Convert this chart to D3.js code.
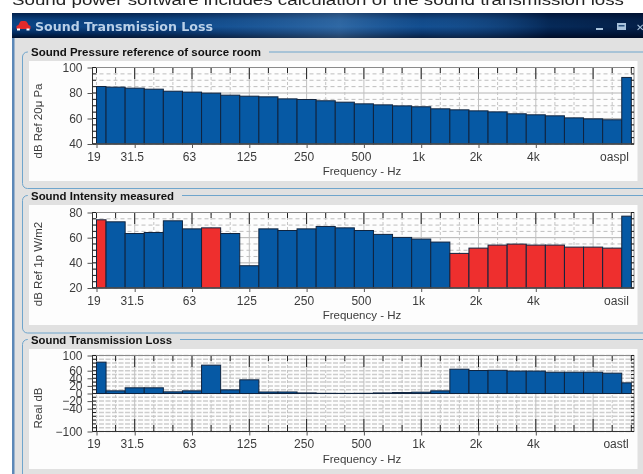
<!DOCTYPE html>
<html><head><meta charset="utf-8">
<script src="https://cdn.jsdelivr.net/npm/d3@7"></script>
<style>
html,body{margin:0;padding:0;background:#fff;overflow:hidden}
svg{display:block;filter:blur(0.35px)}
text{font-family:"Liberation Sans",Arial,sans-serif}
</style></head><body><svg id="c" width="643" height="474"></svg>
<script>
const caption = "Sound power software includes calculation of the sound transmission loss";
const windowTitle = "Sound Transmission Loss";
const bandLabels = ["19","","31.5","","","63","","","125","","","250","","","500","","","1k","","","2k","","","4k","","","","",""];
const pressure = [85.1,84.6,83.8,83,81.4,80.7,79.9,78.3,77.5,77,75.4,74.9,73.9,72.8,71.5,70.7,69.9,69.2,67.6,66.8,66,65.2,63.7,62.9,62.1,60.5,59.7,59,92.2];
const intensity = [74.2,72.6,63.3,64.1,73.4,67,67.8,63.3,37.7,67,65.7,67,68.9,67.8,65.7,62.6,60.2,58.9,56.5,47.5,51.7,54.1,54.9,54.1,54.1,52.5,52.5,51.7,77.1];
const intensityRed = [0,6,19,20,21,22,23,24,25,26,27];
const loss = [82.5,7,15,15,4.4,7,74.6,9.6,36,4,4,1.5,0.5,0.3,0.5,1.5,2.5,3.5,7,64,60.5,61,59,59,56,56,56,53.5,28];
const pressureTicks = [100,80,60,40];
const intensityTicks = [80,60,40,20];
const lossTicks = [100,60,40,20,0,-20,-40,-100];

const svg = d3.select("#c");
const defs = svg.append("defs");
const g1 = defs.append("linearGradient").attr("id","tb").attr("x1",0).attr("y1",0).attr("x2",0).attr("y2",1);
[[0,"#03204a"],[0.25,"#0a3f7c"],[0.55,"#0b4688"],[0.8,"#022a5e"],[1,"#00102c"]].forEach(s=>g1.append("stop").attr("offset",s[0]).attr("stop-color",s[1]));
const g2 = defs.append("linearGradient").attr("id","tb2");
[[0,"#000",0],[0.3,"#5aa0e0",0.1],[0.52,"#8cc4f4",0.28],[0.65,"#4d8fd0",0.12],[0.85,"#000820",0.45],[1,"#000820",0.6]].forEach(s=>g2.append("stop").attr("offset",s[0]).attr("stop-color",s[1]).attr("stop-opacity",s[2]));

svg.append("text").text(caption).attr("x",12).attr("y",4.5).attr("font-size",15.5).attr("fill","#222").attr("textLength",612).attr("lengthAdjust","spacingAndGlyphs");

svg.append("rect").attr("x",12).attr("y",13).attr("width",640).attr("height",470).attr("fill","#e1e1e1");
svg.append("rect").attr("x",12).attr("y",38).attr("width",2.5).attr("height",440).attr("fill","#5c88b8");
svg.append("rect").attr("x",12).attr("y",13).attr("width",640).attr("height",25).attr("fill","url(#tb)");
svg.append("rect").attr("x",12).attr("y",13).attr("width",631).attr("height",25).attr("fill","url(#tb2)");
svg.append("path").attr("d","M16.5 29 v-3 l2 -1 l1.5 -3 q.5 -1 2 -1 h3 q1.5 0 2.5 2 l1 2 l2 1 v3 z").attr("fill","#e22a2a");
svg.append("rect").attr("x",17).attr("y",28.5).attr("width",3).attr("height",2).attr("fill","#fff");
svg.append("rect").attr("x",26.5).attr("y",28.5).attr("width",3).attr("height",2).attr("fill","#fff");
svg.append("text").text(windowTitle).attr("x",35).attr("y",31).attr("font-size",12.5).attr("font-weight","bold").attr("fill","#b9d0e8").style("font-family","'DejaVu Sans'").attr("textLength",178).attr("lengthAdjust","spacingAndGlyphs");
svg.append("rect").attr("x",596).attr("y",28).attr("width",7).attr("height",2).attr("fill","#a9c3dc");
svg.append("rect").attr("x",617).attr("y",23).attr("width",9).attr("height",7).attr("fill","#a9c3dc");
svg.append("rect").attr("x",618.5).attr("y",25).attr("width",6).attr("height",1.5).attr("fill","#27507e");
svg.append("text").text("✕").attr("x",636).attr("y",31).attr("font-size",10).attr("fill","#a9c3dc").style("font-family","'DejaVu Sans'");

const xS = d3.scalePoint().domain(d3.range(bandLabels.length)).range([96,630.8]);
const step = xS.step();
const panels = [
 {title:"Sound Pressure reference of source room",titleW:230,boxTop:52,boxBot:188.5,whiteTop:61,whiteBot:181,top:67,bot:143.5,domain:[40,100],ticks:pressureTicks,grid:5,solid:[80,60],vals:pressure,red:[],last:"oaspl",ylabel:"dB Ref 20μ Pa",ylabelY:121},
 {title:"Sound Intensity measured",titleW:143,boxTop:195.5,boxBot:333,whiteTop:205,whiteBot:325,top:212,bot:287.5,domain:[20,80],ticks:intensityTicks,grid:5,solid:[60,40],vals:intensity,red:intensityRed,last:"oasil",ylabel:"dB Ref 1p W/m2",ylabelY:264},
 {title:"Sound Transmission Loss",titleW:141,boxTop:339.5,boxBot:490,whiteTop:349,whiteBot:469,top:355,bot:431,domain:[-100,100],ticks:lossTicks,grid:10,solid:[],vals:loss,red:[],last:"oastl",ylabel:"Real dB",ylabelY:408}
];
const L=92.5,R=634;
panels.forEach(p=>{
  const g = svg.append("g");
  const dense = p.grid===10;
  const y = d3.scaleLinear().domain(p.domain).range([p.bot,p.top]);
  g.append("rect").attr("x",22.5).attr("y",p.boxTop).attr("width",640).attr("height",p.boxBot-p.boxTop).attr("rx",5).attr("fill","none").attr("stroke","#6fa5cc");
  g.append("rect").attr("x",29).attr("y",p.whiteTop).attr("width",608.5).attr("height",p.whiteBot-p.whiteTop).attr("fill","#fdfdfd");
  g.append("rect").attr("x",28).attr("y",p.boxTop-3).attr("width",p.titleW+11).attr("height",6).attr("fill","#e1e1e1");
  g.append("text").text(p.title).attr("x",31).attr("y",p.boxTop+4).attr("font-size",11.5).attr("font-weight","bold").attr("fill","#111").attr("textLength",p.titleW).attr("lengthAdjust","spacingAndGlyphs");
  // grid
  const gridVals = d3.range(p.domain[0],p.domain[1]+1,p.grid);
  g.selectAll(null).data(gridVals).join("line").attr("x1",L).attr("x2",R).attr("y1",d=>y(d)+.5).attr("y2",d=>y(d)+.5)
    .attr("stroke",d=>p.solid.includes(d)?"#b4b4b4":(dense?"#cdcdcd":"#bdbdbd")).attr("stroke-width",dense?1.5:1).attr("stroke-dasharray",d=>p.solid.includes(d)?null:(dense?"5,1.5":"4,3"));
  const idx = d3.range(bandLabels.length);
  g.selectAll(null).data(idx).join("line").attr("y1",p.top).attr("y2",p.bot).attr("x1",d=>xS(d)+.5).attr("x2",d=>xS(d)+.5)
    .attr("stroke",d=>d%3===2?"#c0c0c0":"#c4c4c4").attr("stroke-dasharray",d=>d%3===2?null:"3,2");
  // inner x ticks top & bottom
  const len = d=>d%3===2?12:6;
  g.selectAll(null).data(idx).join("line").attr("y1",p.top).attr("y2",d=>p.top+len(d)).attr("x1",d=>xS(d)+.5).attr("x2",d=>xS(d)+.5).attr("stroke","#222");
  g.selectAll(null).data(idx).join("line").attr("y1",p.bot).attr("y2",d=>p.bot-len(d)).attr("x1",d=>xS(d)+.5).attr("x2",d=>xS(d)+.5).attr("stroke","#222");
  // bars
  const base = Math.max(p.domain[0],0);
  g.selectAll(null).data(p.vals).join("rect")
    .attr("x",(d,i)=>Math.max(96,xS(i)-step/2)+.5)
    .attr("width",(d,i)=>Math.min(630.8,xS(i)+step/2)-Math.max(96,xS(i)-step/2))
    .attr("y",d=>y(d)+.5).attr("height",d=>Math.abs(y(base)-y(d)))
    .attr("fill",(d,i)=>p.red.includes(i)?"#ee2f2e":"#0659a4").attr("stroke","#10243f").attr("stroke-width",1);
  // plot border
  g.append("rect").attr("x",L).attr("y",p.top+.5).attr("width",R-L).attr("height",p.bot-p.top).attr("fill","none").attr("stroke","#8a8a8a");
  g.append("line").attr("x1",L).attr("x2",L).attr("y1",p.top).attr("y2",p.bot+.5).attr("stroke","#333");
  g.append("line").attr("x1",L).attr("x2",R).attr("y1",p.bot+.5).attr("y2",p.bot+.5).attr("stroke","#333");
  // minor y ticks on both sides
  g.selectAll(null).data(gridVals).join("line").attr("x1",L).attr("x2",L+3.5).attr("y1",d=>y(d)+.5).attr("y2",d=>y(d)+.5).attr("stroke","#222");
  g.selectAll(null).data(gridVals).join("line").attr("x1",R-3).attr("x2",R).attr("y1",d=>y(d)+.5).attr("y2",d=>y(d)+.5).attr("stroke","#222");
  // y axis
  const ya = g.append("g").attr("transform",`translate(${L},0.5)`).call(d3.axisLeft(y).tickValues(p.ticks).tickSize(5).tickPadding(5).tickFormat(d3.format("d")));
  ya.select(".domain").remove();
  ya.selectAll("line").attr("stroke","#555");
  ya.selectAll("text").attr("font-size",12).attr("fill","#3c3c3c").style("font-family","'Liberation Sans'");
  // x axis
  const labelled = idx.filter(i=>bandLabels[i]!=="");
  const xa = g.append("g").attr("transform",`translate(0.5,${p.bot+.5})`).call(d3.axisBottom(xS).tickValues(labelled.concat([28])).tickSize(4).tickPadding(4).tickFormat(i=>i===28?p.last:bandLabels[i]));
  xa.select(".domain").remove();
  xa.selectAll("line").attr("stroke","#555").attr("opacity",i=>i===28?0:1);
  xa.selectAll("text").attr("font-size",12).attr("fill","#3c3c3c").style("font-family","'Liberation Sans'")
    .attr("dx",i=>i===28?0:-3).attr("text-anchor",i=>i===28?"end":"middle").attr("x",i=>i===28?-3:0);
  g.append("text").text("Frequency - Hz").attr("x",362).attr("y",p.bot+31.5).attr("text-anchor","middle").attr("font-size",11.5).attr("fill","#3c3c3c");
  g.append("text").text(p.ylabel).attr("transform",`translate(42,${p.ylabelY}) rotate(-90)`).attr("text-anchor","middle").attr("font-size",11.5).attr("fill","#3c3c3c");
});
</script></body></html>
